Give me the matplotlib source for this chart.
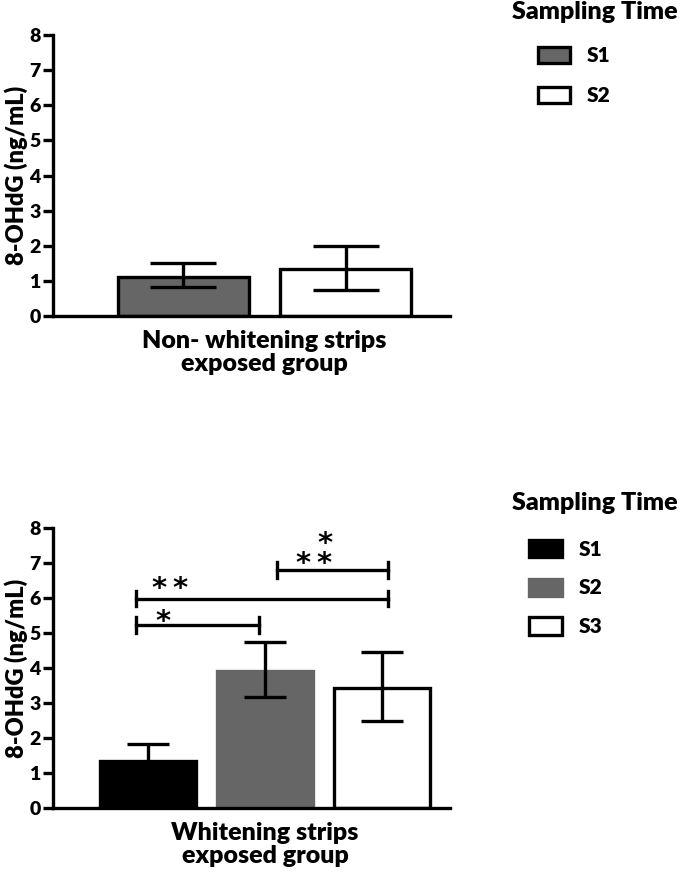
import matplotlib
matplotlib.use('Agg')
import matplotlib.pyplot as plt

matplotlib.rc('font', family=['Lato', 'DejaVu Sans'], weight='heavy')

# top panel: non-exposed group
top_labels = ['S1', 'S2']
top_means = [1.13, 1.35]
top_err_low = [0.30, 0.60]
top_err_high = [0.38, 0.66]
top_colors = ['#666666', 'white']
top_edges = ['black', 'black']

# bottom panel: exposed group
bot_labels = ['S1', 'S2', 'S3']
bot_means = [1.35, 3.92, 3.42]
bot_err_low = [0.48, 0.76, 0.93]
bot_err_high = [0.48, 0.81, 1.03]
bot_colors = ['black', '#666666', 'white']
bot_edges = ['black', '#666666', 'black']

# significance brackets: x1, x2, y, label, label x, label y
brackets = [(-0.10, 0.95, 5.22, '*', 0.13, 5.30),
            (-0.10, 2.05, 5.98, '*\u2009*', 0.19, 6.25),
            (1.10, 2.05, 6.79, '*\n*\u2009*', 1.42, 7.25)]

ylabel = '8-OHdG (ng/mL)'
yticks = list(range(0, 9))

fig = plt.figure(figsize=(6.85, 8.76), dpi=100)
ax1 = fig.add_axes([0.0774, 0.639, 0.5796, 0.321])
ax2 = fig.add_axes([0.0774, 0.0773, 0.5796, 0.3203])

lw = 2.4


def style(ax, xlim, xcenter, xlabel):
    ax.set_ylim(0, 8)
    ax.set_xlim(*xlim)
    ax.set_yticks(yticks)
    ax.set_yticklabels([str(t) for t in yticks], fontsize=14, fontweight='heavy')
    ax.tick_params(axis='y', length=7, width=lw, pad=2)
    ax.set_xticks([xcenter])
    ax.set_xticklabels([xlabel], fontsize=18, linespacing=1.05, fontweight='heavy')
    ax.tick_params(axis='x', length=0, pad=10)
    for s in ['top', 'right']:
        ax.spines[s].set_visible(False)
    for s in ['left', 'bottom']:
        ax.spines[s].set_linewidth(lw)
    ax.set_ylabel(ylabel, fontsize=17, labelpad=1, fontweight='heavy')


# top
xs = list(range(len(top_means)))
bars1 = ax1.bar(xs, top_means, width=0.806, color=top_colors,
                edgecolor=top_edges, linewidth=lw, zorder=2)
ax1.errorbar(xs, top_means, yerr=[top_err_low, top_err_high], fmt='none',
             ecolor='black', elinewidth=lw, capsize=24, capthick=lw, zorder=3)
style(ax1, (-0.80, 1.64), 0.5, 'Non- whitening strips\nexposed group')

# bottom
xs = list(range(len(bot_means)))
bars2 = ax2.bar(xs, bot_means, width=0.82, color=bot_colors,
                edgecolor=bot_edges, linewidth=lw, zorder=2)
ax2.errorbar(xs, bot_means, yerr=[bot_err_low, bot_err_high], fmt='none',
             ecolor='black', elinewidth=lw, capsize=15, capthick=lw, zorder=3)
style(ax2, (-0.81, 2.58), 1.0, 'Whitening strips\nexposed group')

for x1, x2, y, lab, tx, ty in brackets:
    ax2.plot([x1, x2], [y, y], color='black', lw=lw, clip_on=False)
    ax2.plot([x1, x1], [y - 0.22, y + 0.22], color='black', lw=lw, clip_on=False)
    ax2.plot([x2, x2], [y - 0.22, y + 0.22], color='black', lw=lw, clip_on=False)
    ax2.text(tx, ty, lab, ha='center', va='center', fontsize=21,
             multialignment='right', linespacing=0.6,
             family='DejaVu Sans', fontweight='bold')

# legends
fig.text(0.748, 0.986, 'Sampling Time', fontsize=18, va='center', ha='left')
ax1.legend(bars1, top_labels, loc='upper left', bbox_to_anchor=(0.785, 0.947),
           bbox_transform=fig.transFigure, frameon=False, fontsize=15,
           handlelength=1.55, handleheight=0.82, labelspacing=1.0,
           handletextpad=0.8, borderaxespad=0, borderpad=0)

fig.text(0.748, 0.426, 'Sampling Time', fontsize=18, va='center', ha='left')
ax2.legend(bars2, bot_labels, loc='upper left', bbox_to_anchor=(0.772, 0.384),
           bbox_transform=fig.transFigure, frameon=False, fontsize=15,
           handlelength=1.6, handleheight=0.9, labelspacing=0.95,
           handletextpad=0.8, borderaxespad=0, borderpad=0)

plt.savefig('out.png', dpi=100)
